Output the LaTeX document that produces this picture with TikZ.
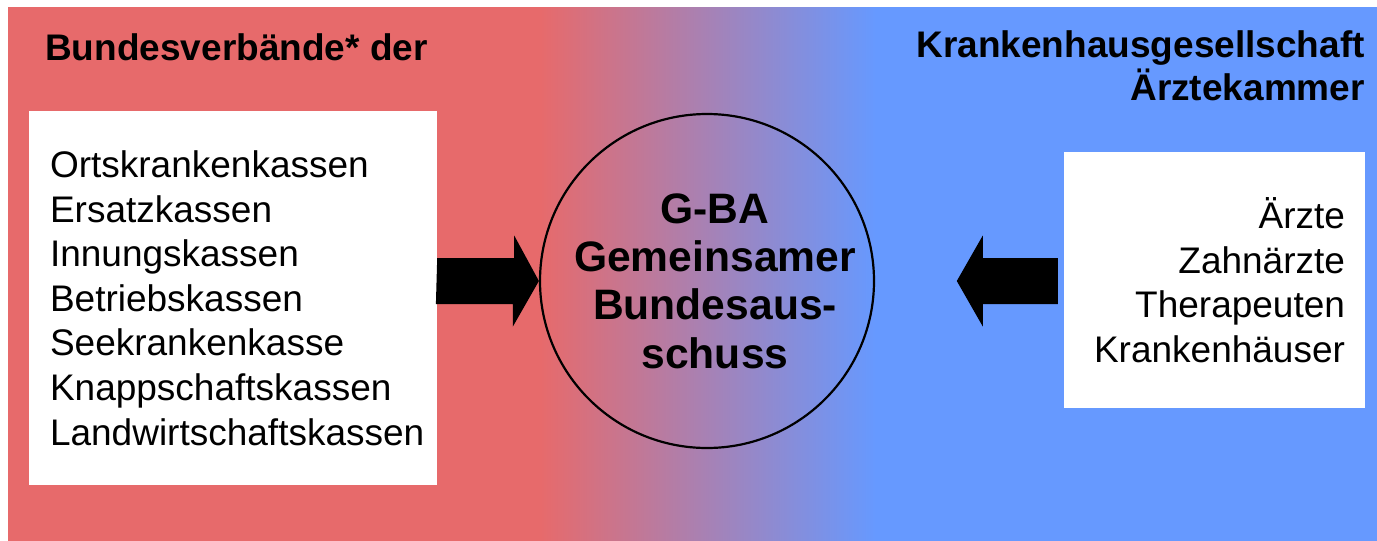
\documentclass[tikz,border=0pt]{standalone}
\usepackage{fontspec}
\setmainfont{Liberation Sans}
\definecolor{kassenrot}{HTML}{E76A6B}
\definecolor{leistungsblau}{HTML}{6699FF}
\tikzset{
  liste/.style={fill=white, inner ysep=0pt, inner xsep=20pt, font=\fontsize{37}{44.6}\selectfont},
  titel/.style={inner sep=0pt, font=\fontsize{37}{43}\selectfont\bfseries},
  pfeil/.style={fill=black}
}

\begin{document}
\begin{tikzpicture}[x=1pt,y=-1pt]
\useasboundingbox (0,0) rectangle (1377,541);
\fill[kassenrot] (8,7) rectangle (541,541);
\shade[left color=kassenrot, right color=leistungsblau] (540,7) rectangle (876,541);
\fill[leistungsblau] (875,7) rectangle (1377,541);

\node[titel, anchor=base west] (verbaende) at (45,60) {Bundesverbände* der};
\node[titel, anchor=north east, align=right] (kammern) at (1365,30) {Krankenhausgesellschaft\\Ärztekammer};

\node[liste, inner xsep=21pt, text width=366pt, minimum height=374pt, align=left] (kassen) at (233,298)
  {Ortskrankenkassen\\Ersatzkassen\\Innungskassen\\Betriebskassen\\Seekrankenkasse\\Knappschaftskassen\\Landwirtschaftskassen};
\node[liste, text width=261pt, minimum height=256pt, align=right] (aerzte) at (1214.5,280)
  {Ärzte\\Zahnärzte\\Therapeuten\\Krankenhäuser};

\node[circle, draw, line width=2.2pt, minimum size=334pt, inner sep=0pt] (gba) at (707,281) {};
\node[align=center, inner sep=0pt, xshift=8pt, font=\fontsize{42.6}{48.3}\selectfont\bfseries] (gbatext) at (gba) {G-BA\\Gemeinsamer\\Bundesaus-\\schuss};

\fill[pfeil] (kassen.east |- gba.west) ++(0,-23) -- ++(77,0) -- ++(0,-22.5) -- (gba.west) -- ++(-26,45.5) -- ++(0,-22.5) -- ++(-77,0) -- cycle;
\fill[pfeil] ([xshift=-6pt]aerzte.west |- gba.east) ++(0,-23) -- ++(-75,0) -- ++(0,-22.5) -- ++(-26,45.5) -- ++(26,45.5) -- ++(0,-22.5) -- ++(75,0) -- cycle;
\end{tikzpicture}
\end{document}
